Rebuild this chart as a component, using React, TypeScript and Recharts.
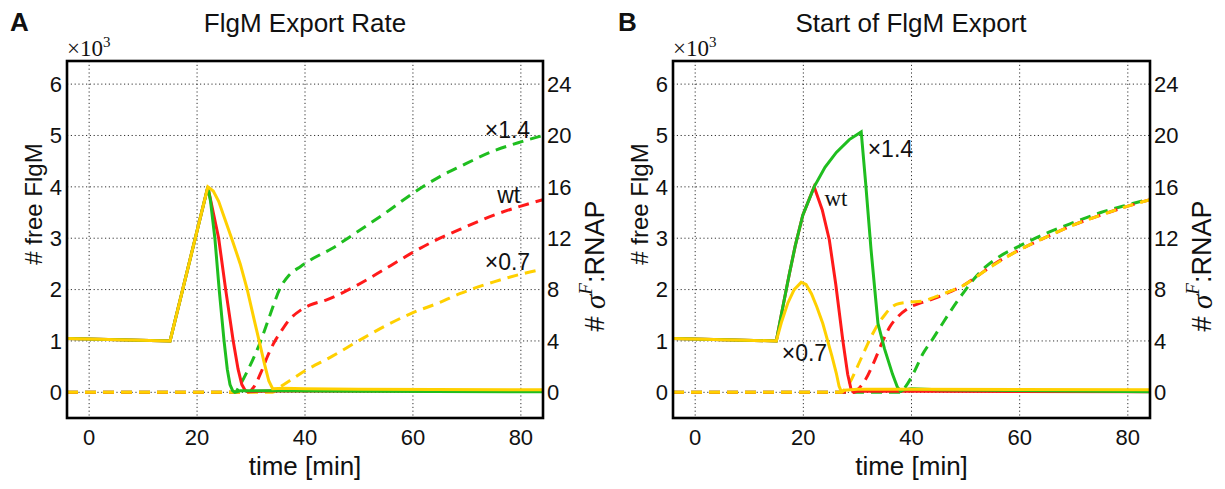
import React from "react"
import { LineChart, Line, XAxis, YAxis, CartesianGrid, ReferenceDot } from "recharts"

// axis ranges (x in min, left in 10^3 molecules, right in molecules)
const X_MIN = -4.1
const X_MAX = 84.1
const L_MIN = -0.5
const L_MAX = 6.45
const R_MIN = -2
const R_MAX = 25.8
const xTicks = [0, 20, 40, 60, 80]
const leftTicks = [0, 1, 2, 3, 4, 5, 6]
const rightTicks = [0, 4, 8, 12, 16, 20, 24]

const GREEN = "#1fbe1f"
const RED = "#ff1a1a"
const YELLOW = "#ffd000"
const SANS = "'Liberation Sans', Arial, Helvetica, sans-serif"
const SERIF = "'Liberation Serif', 'Times New Roman', serif"

// plot box layout (page pixels)
const TOP = 61
const CHART_H = 489
const AXIS_L = 67
const AXIS_R = 70
const AXIS_B = 71

// ---- panel A: FlgM export rate ----  [t, value]
const freeGreenA = [[-4.1, 1.05], [15, 1.0], [22, 4.0], [22.5, 3.72], [23.3, 3.0], [24.1, 2.0], [25, 1.0], [25.6, 0.45], [26.1, 0.15], [26.6, 0.03], [27, 0.0], [28, 0.03], [35, 0.03], [50, 0.02], [84.1, 0.01]]
const freeRedA = [[-4.1, 1.05], [15, 1.0], [22, 4.0], [23, 3.5], [24, 3.0], [25.3, 2.0], [26.7, 1.0], [27.6, 0.45], [28.3, 0.15], [28.9, 0.04], [29.5, 0.01], [35, 0.03], [84.1, 0.02]]
const freeYellowA = [[-4.1, 1.05], [15, 1.0], [22, 4.0], [23, 3.92], [24, 3.72], [25, 3.42], [26.4, 3.0], [28, 2.5], [29.3, 2.0], [30.5, 1.45], [31.5, 1.0], [32.5, 0.55], [33.3, 0.22], [34, 0.07], [36, 0.08], [40, 0.07], [50, 0.06], [84.1, 0.05]]
const rnapGreenA = [[-4.1, 0], [27, 0], [28, 0.6], [29.5, 1.8], [31.8, 4.0], [33.5, 6.0], [35.5, 8.2], [37, 9.1], [39.2, 9.8], [41, 10.3], [45, 11.2], [49, 12.3], [55, 14.0], [60, 15.5], [65, 16.8], [68.8, 17.6], [75, 18.8], [80, 19.5], [84.1, 20.0]]
const rnapRedA = [[-4.1, 0], [29.5, 0], [30.5, 0.4], [32, 1.7], [33, 2.75], [34.3, 3.9], [35.5, 4.7], [37, 5.6], [39.2, 6.4], [41, 6.8], [44, 7.2], [47.2, 7.8], [52, 8.9], [56, 9.9], [60, 10.9], [64, 11.8], [68.8, 12.7], [75, 13.8], [80, 14.5], [84.1, 15.0]]
const rnapYellowA = [[-4.1, 0], [34, 0], [35, 0.3], [37.5, 1.0], [40.1, 1.7], [45, 2.8], [50.3, 4.1], [55, 5.2], [60, 6.2], [65, 7.0], [68.8, 7.7], [75, 8.6], [80, 9.2], [84.1, 9.6]]

// ---- panel B: start of FlgM export ----
const freeGreenB = [[-4.1, 1.05], [15, 1.0], [16, 1.55], [17.4, 2.3], [18.5, 2.85], [19.9, 3.45], [22, 4.0], [24, 4.38], [26.1, 4.67], [28.5, 4.92], [30.7, 5.07], [31.5, 4.1], [32.5, 2.8], [33.8, 1.34], [35, 0.85], [36.5, 0.35], [37.4, 0.1], [38, 0.02], [38.6, 0.05], [40, 0.07], [45, 0.05], [84.1, 0.01]]
const freeRedB = [[-4.1, 1.05], [15, 1.0], [16, 1.55], [17.4, 2.3], [18.5, 2.85], [19.9, 3.45], [22, 4.0], [23.5, 3.55], [24.8, 2.97], [26, 2.1], [27.3, 1.01], [28.2, 0.35], [28.8, 0.07], [29.3, 0.0], [30, 0.02], [40, 0.02], [84.1, 0.01]]
const freeYellowB = [[-4.1, 1.05], [15, 1.0], [16, 1.38], [17.1, 1.73], [18.3, 2.0], [19.6, 2.14], [20.5, 2.1], [21.5, 1.92], [22.5, 1.66], [23.6, 1.34], [24.5, 1.0], [25.3, 0.7], [26.1, 0.37], [26.6, 0.12], [27, 0.02], [27.6, 0.04], [30, 0.06], [40, 0.06], [84.1, 0.05]]
const rnapGreenB = [[-4.1, 0], [38, 0], [39, 0.5], [40.5, 1.6], [42.1, 3.0], [44, 4.2], [45.8, 5.4], [47.5, 6.5], [49.5, 7.7], [51.5, 8.8], [53.8, 9.8], [56, 10.5], [60, 11.4], [65, 12.4], [69.2, 13.1], [75, 14.0], [80, 14.6], [84.1, 15.05]]
const rnapRedB = [[-4.1, 0], [29.3, 0], [30, 0.2], [31.5, 1.0], [33, 2.3], [34.7, 4.0], [36, 5.1], [37.5, 5.9], [39.6, 6.6], [42, 7.0], [44.5, 7.35], [47, 7.8], [49.5, 8.3], [52, 9.0], [55, 9.9], [60, 11.1], [65, 12.1], [69.2, 12.9], [75, 13.8], [80, 14.5], [84.1, 15.0]]
const rnapYellowB = [[-4.1, 0], [27, 0], [27.8, 0.3], [28.8, 0.92], [30, 2.0], [31.5, 3.4], [33, 4.7], [33.8, 5.3], [35, 6.0], [36, 6.5], [37.2, 6.85], [39, 7.0], [42.1, 7.1], [44.5, 7.45], [47, 7.85], [49.5, 8.3], [52, 9.0], [55, 9.85], [60, 11.1], [65, 12.1], [69.2, 12.9], [75, 13.8], [80, 14.5], [84.1, 15.0]]

type Tag = { text: string; t: number; v: number; serif?: boolean }
const tagsA: Tag[] = [
  { text: "×1.4", t: 73.3, v: 4.96 },
  { text: "wt", t: 75.6, v: 3.68 },
  { text: "×0.7", t: 73.3, v: 2.38 },
]
const tagsB: Tag[] = [
  { text: "×1.4", t: 31.9, v: 4.58 },
  { text: "wt", t: 23.9, v: 3.63, serif: true },
  { text: "×0.7", t: 16.0, v: 0.61 },
]

type Series = { color: string; rows: number[][] }
const toPts = (rows: number[][]) => rows.map(([t, v]) => ({ t, v }))

const tickStyle = { fontSize: 22, fill: "#111", fontFamily: SANS }

const leftLabel = (p: any) => {
  const { x } = p.viewBox
  const cx = x + 33
  const cy = 204
  return (
    <text x={cx} y={cy} transform={`rotate(-90 ${cx} ${cy})`} textAnchor="middle" dominantBaseline="central" fontSize={24} fontFamily={SANS} fill="#111">
      # free FlgM
    </text>
  )
}

const rightLabel = (p: any) => {
  const { x } = p.viewBox
  const cx = x + 52
  const cy = 266
  return (
    <text x={cx} y={cy} transform={`rotate(-90 ${cx} ${cy})`} textAnchor="middle" dominantBaseline="central" fontSize={27} fontFamily={SANS} fill="#111">
      {"# "}
      <tspan fontFamily={SERIF} fontStyle="italic" fontSize={29}>σ</tspan>
      <tspan fontFamily={SERIF} fontStyle="italic" fontSize={19} dy={-10}>F</tspan>
      <tspan dy={10}>:RNAP</tspan>
    </text>
  )
}

const timeLabel = (p: any) => {
  const { x, y, width } = p.viewBox
  return (
    <text x={x + width / 2} y={y + 57} textAnchor="middle" fontSize={26} fontFamily={SANS} fill="#111">
      time [min]
    </text>
  )
}

const tagLabel = (tag: Tag) => (p: any) => (
  <text x={p.viewBox.x} y={p.viewBox.y} fontSize={23} fontFamily={tag.serif ? SERIF : SANS} fill="#111">
    {tag.text}
  </text>
)

function Panel({ left, width, free, rnap, tags }: { left: number; width: number; free: Series[]; rnap: Series[]; tags: Tag[] }) {
  const boxW = width - AXIS_L - AXIS_R
  const boxH = CHART_H - TOP - AXIS_B
  return (
    <div style={{ position: "absolute", left, top: 0, width, height: CHART_H }}>
      <LineChart width={width} height={CHART_H} margin={{ top: TOP, right: 0, bottom: 0, left: 0 }}>
        <CartesianGrid yAxisId="l" stroke="#333" strokeDasharray="1.2 2.6" />
        <XAxis
          dataKey="t"
          type="number"
          domain={[X_MIN, X_MAX]}
          allowDataOverflow
          ticks={xTicks}
          interval={0}
          height={AXIS_B}
          axisLine={false}
          tickLine={false}
          tickSize={0}
          tickMargin={11}
          tick={tickStyle}
          label={timeLabel}
        />
        <YAxis
          yAxisId="l"
          orientation="left"
          type="number"
          domain={[L_MIN, L_MAX]}
          allowDataOverflow
          ticks={leftTicks}
          interval={0}
          width={AXIS_L}
          axisLine={false}
          tickLine={false}
          tickSize={0}
          tickMargin={5}
          tick={tickStyle}
          label={leftLabel}
        />
        <YAxis
          yAxisId="r"
          orientation="right"
          type="number"
          domain={[R_MIN, R_MAX]}
          allowDataOverflow
          ticks={rightTicks}
          interval={0}
          width={AXIS_R}
          axisLine={false}
          tickLine={false}
          tickSize={0}
          tickMargin={4}
          tick={tickStyle}
          label={rightLabel}
        />
        {rnap.map((s, i) => (
          <Line key={"r" + i} yAxisId="r" data={toPts(s.rows)} dataKey="v" type="monotone" stroke={s.color} strokeWidth={3} strokeDasharray="11 7" dot={false} activeDot={false} isAnimationActive={false} />
        ))}
        {free.map((s, i) => (
          <Line key={"l" + i} yAxisId="l" data={toPts(s.rows)} dataKey="v" type="linear" stroke={s.color} strokeWidth={3} dot={false} activeDot={false} isAnimationActive={false} />
        ))}
        {tags.map((tag) => (
          <ReferenceDot key={tag.text} yAxisId="l" x={tag.t} y={tag.v} r={0} fill="none" stroke="none" label={tagLabel(tag)} />
        ))}
      </LineChart>
      {/* plot frame */}
      <svg width={width} height={CHART_H} style={{ position: "absolute", left: 0, top: 0, pointerEvents: "none" }}>
        <rect x={AXIS_L} y={TOP} width={boxW} height={boxH} fill="none" stroke="#000" strokeWidth={2.6} />
      </svg>
    </div>
  )
}

export default function App() {
  return (
    <div style={{ position: "absolute", left: 0, top: 0, width: 1225, height: 489, background: "#fff" }}>
      <Panel
        left={0}
        width={613}
        free={[{ color: RED, rows: freeRedA }, { color: GREEN, rows: freeGreenA }, { color: YELLOW, rows: freeYellowA }]}
        rnap={[{ color: GREEN, rows: rnapGreenA }, { color: RED, rows: rnapRedA }, { color: YELLOW, rows: rnapYellowA }]}
        tags={tagsA}
      />
      <Panel
        left={606}
        width={614}
        free={[{ color: RED, rows: freeRedB }, { color: GREEN, rows: freeGreenB }, { color: YELLOW, rows: freeYellowB }]}
        rnap={[{ color: GREEN, rows: rnapGreenB }, { color: RED, rows: rnapRedB }, { color: YELLOW, rows: rnapYellowB }]}
        tags={tagsB}
      />
      <svg width={1225} height={489} style={{ position: "absolute", left: 0, top: 0, pointerEvents: "none" }}>
        <text x={10} y={31} fontSize={26} fontWeight="bold" fontFamily={SANS} fill="#111">A</text>
        <text x={618} y={31} fontSize={26} fontWeight="bold" fontFamily={SANS} fill="#111">B</text>
        <text x={305} y={32} textAnchor="middle" fontSize={26} fontFamily={SANS} fill="#111">FlgM Export Rate</text>
        <text x={911} y={32} textAnchor="middle" fontSize={26} fontFamily={SANS} fill="#111">Start of FlgM Export</text>
        <text x={67} y={56} fontSize={23} fontFamily={SERIF} fill="#111">
          ×10<tspan fontSize={15} dy={-9}>3</tspan>
        </text>
        <text x={673} y={56} fontSize={23} fontFamily={SERIF} fill="#111">
          ×10<tspan fontSize={15} dy={-9}>3</tspan>
        </text>
      </svg>
    </div>
  )
}
